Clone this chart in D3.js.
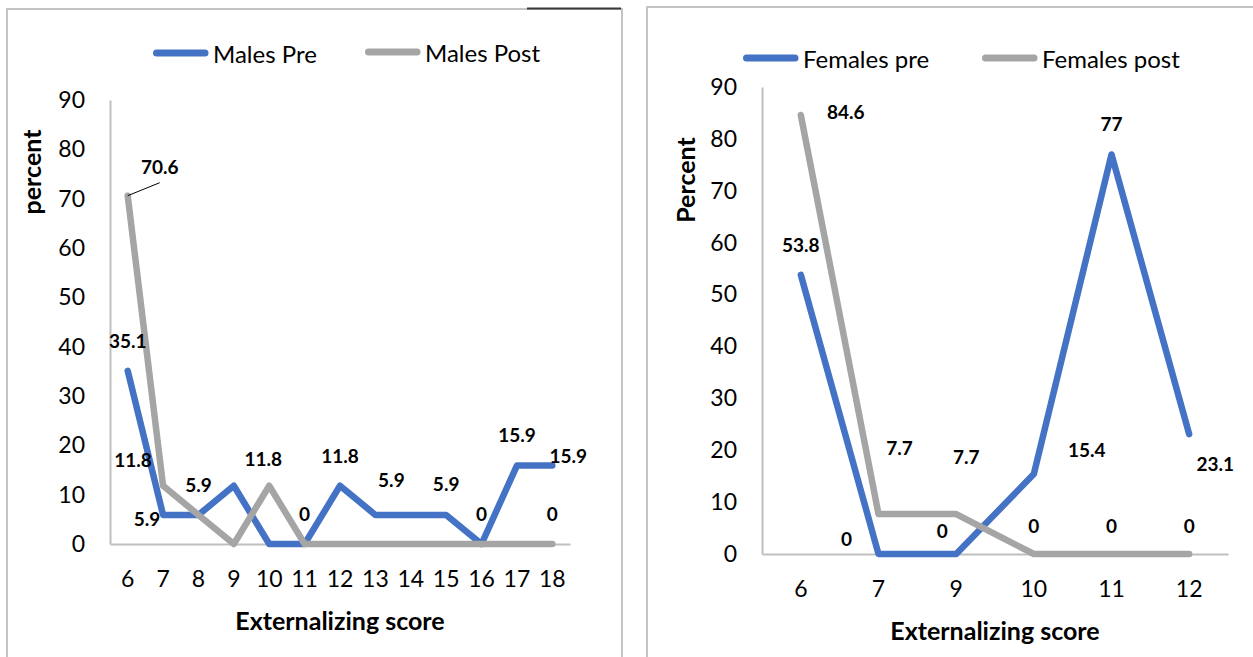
<!DOCTYPE html>
<html>
<head>
<meta charset="utf-8">
<script src="https://cdn.jsdelivr.net/npm/d3@7/dist/d3.min.js"></script>
<style>
  html, body { margin: 0; padding: 0; background: #fff; }
  svg { display: block; }
  text { font-family: Lato, "Open Sans", "Noto Sans", sans-serif; fill: #000; }
</style>
</head>
<body>
<svg id="chart" width="1253" height="657"></svg>
<script>
// ---- data ----
const maleScores = ["6","7","8","9","10","11","12","13","14","15","16","17","18"];
const malesPre   = [35.1, 5.9, 5.9, 11.8, 0, 0, 11.8, 5.9, 5.9, 5.9, 0, 15.9, 15.9];
const malesPost  = [70.6, 11.8, 5.9, 0, 11.8, 0, 0, 0, 0, 0, 0, 0, 0];

const femaleScores = ["6","7","9","10","11","12"];
const femalesPre   = [53.8, 0, 0, 15.4, 77, 23.1];
const femalesPost  = [84.6, 7.7, 7.7, 0, 0, 0];

const yTicks = [0, 10, 20, 30, 40, 50, 60, 70, 80, 90];

// which points carry a value label, and where the label sits relative to its point
const maleLabelSpots = [
  { s: 0, c: "6",  dx: 0,   dy: -30 },
  { s: 1, c: "6",  dx: 32,  dy: -29, leader: true },
  { s: 1, c: "7",  dx: -30, dy: -26 },
  { s: 0, c: "7",  dx: -16, dy: 4 },
  { s: 1, c: "8",  dx: 0,   dy: -30 },
  { s: 1, c: "10", dx: -6,  dy: -27 },
  { s: 1, c: "11", dx: 0,   dy: -31 },
  { s: 0, c: "12", dx: 0,   dy: -30 },
  { s: 0, c: "13", dx: 16,  dy: -35 },
  { s: 0, c: "15", dx: 0,   dy: -31 },
  { s: 0, c: "16", dx: 0,   dy: -31 },
  { s: 0, c: "17", dx: 0,   dy: -31 },
  { s: 0, c: "18", dx: 16,  dy: -10 },
  { s: 1, c: "18", dx: 0,   dy: -31 }
];
const femaleLabelSpots = [
  { s: 1, c: "6",  dx: 45,  dy: -4 },
  { s: 0, c: "6",  dx: 0,   dy: -30 },
  { s: 0, c: "11", dx: 0,   dy: -31 },
  { s: 1, c: "7",  dx: 21,  dy: -67 },
  { s: 1, c: "9",  dx: 10,  dy: -58 },
  { s: 0, c: "7",  dx: -32, dy: -16 },
  { s: 0, c: "9",  dx: -14, dy: -24 },
  { s: 1, c: "10", dx: 0,   dy: -29 },
  { s: 1, c: "11", dx: 0,   dy: -29 },
  { s: 1, c: "12", dx: 0,   dy: -29 },
  { s: 0, c: "10", dx: 53,  dy: -25 },
  { s: 0, c: "12", dx: 26,  dy: 29 }
];

const BLUE = "#4472C4", GREY = "#A5A5A5", AXIS = "#BFBFBF";

const svg = d3.select("#chart");

// panel frames
svg.append("rect").attr("x", 7).attr("y", 9).attr("width", 615).attr("height", 700)
  .attr("fill", "none").attr("stroke", "#C4C4C4").attr("stroke-width", 2);
svg.append("line").attr("x1", 527).attr("x2", 621).attr("y1", 8.5).attr("y2", 8.5)
  .attr("stroke", "#3A3A3A").attr("stroke-width", 2);
svg.append("rect").attr("x", 647).attr("y", 7).attr("width", 700).attr("height", 700)
  .attr("fill", "none").attr("stroke", "#C4C4C4").attr("stroke-width", 2);

function drawPanel(cfg) {
  const g = svg.append("g");
  const x = d3.scaleBand().domain(cfg.cats).range(cfg.xRange);
  const y = d3.scaleLinear().domain([0, 90]).range(cfg.yRange);
  const cx = c => x(c) + x.bandwidth() / 2;

  // axes
  const xAxis = g.append("g").attr("transform", `translate(0,${cfg.yRange[0]})`)
    .call(d3.axisBottom(x).tickSize(0).tickSizeOuter(0).tickPadding(27));
  const yAxis = g.append("g").attr("transform", `translate(${cfg.xRange[0]},0)`)
    .call(d3.axisLeft(y).tickValues(yTicks).tickSize(0).tickSizeOuter(0).tickPadding(25));
  [xAxis, yAxis].forEach(a => {
    a.select(".domain").attr("stroke", AXIS).attr("stroke-width", 2);
    a.selectAll("text").attr("font-size", 23).attr("fill", "#000");
    a.attr("font-family", null);
  });

  // series lines
  const line = d3.line().x((d, i) => cx(cfg.cats[i])).y(d => y(d));
  cfg.series.forEach(s => {
    g.append("path").datum(s.values).attr("d", line)
      .attr("fill", "none").attr("stroke", s.color).attr("stroke-width", 6.5)
      .attr("stroke-linejoin", "round").attr("stroke-linecap", "round");
  });

  // value labels
  cfg.labels.forEach(l => {
    const i = cfg.cats.indexOf(l.c);
    const v = cfg.series[l.s].values[i];
    const px = cx(l.c), py = y(v);
    if (l.leader) {
      g.append("line").attr("x1", px).attr("y1", py)
        .attr("x2", px + l.dx).attr("y2", py + l.dy + 16)
        .attr("stroke", "#000").attr("stroke-width", 1);
    }
    g.append("text").attr("x", px + l.dx).attr("y", py + l.dy)
      .attr("text-anchor", "middle").attr("dominant-baseline", "central")
      .attr("font-size", 19).attr("font-weight", "bold").text(String(v));
  });

  // axis titles
  g.append("text").attr("x", cfg.xTitle[0]).attr("y", cfg.xTitle[1])
    .attr("text-anchor", "middle").attr("dominant-baseline", "central")
    .attr("font-size", 25).attr("font-weight", "bold").text("Externalizing score");
  g.append("text").attr("transform", `translate(${cfg.yTitle[0]},${cfg.yTitle[1]}) rotate(-90)`)
    .attr("text-anchor", "middle").attr("dominant-baseline", "central")
    .attr("font-size", 25).attr("font-weight", "bold").text(cfg.yLabel);

  // legend
  cfg.series.forEach(s => {
    g.append("line").attr("x1", s.leg[0] + 3.5).attr("x2", s.leg[0] + 52).attr("y1", s.leg[1]).attr("y2", s.leg[1])
      .attr("stroke", s.color).attr("stroke-width", 7).attr("stroke-linecap", "round");
    g.append("text").attr("x", s.leg[0] + 60).attr("y", s.leg[1])
      .attr("dominant-baseline", "central").attr("font-size", 24).text(s.name);
  });
}

drawPanel({
  cats: maleScores,
  xRange: [110, 570], yRange: [544, 100],
  series: [
    { name: "Males Pre",  values: malesPre,  color: BLUE, leg: [153, 53] },
    { name: "Males Post", values: malesPost, color: GREY, leg: [365, 52] }
  ],
  labels: maleLabelSpots,
  xTitle: [340, 620], yTitle: [31, 172], yLabel: "percent"
});

drawPanel({
  cats: femaleScores,
  xRange: [762, 1228], yRange: [554, 87],
  series: [
    { name: "Females pre",  values: femalesPre,  color: BLUE, leg: [743, 58] },
    { name: "Females post", values: femalesPost, color: GREY, leg: [982, 58] }
  ],
  labels: femaleLabelSpots,
  xTitle: [995, 630], yTitle: [685, 180], yLabel: "Percent"
});
</script>
</body>
</html>
